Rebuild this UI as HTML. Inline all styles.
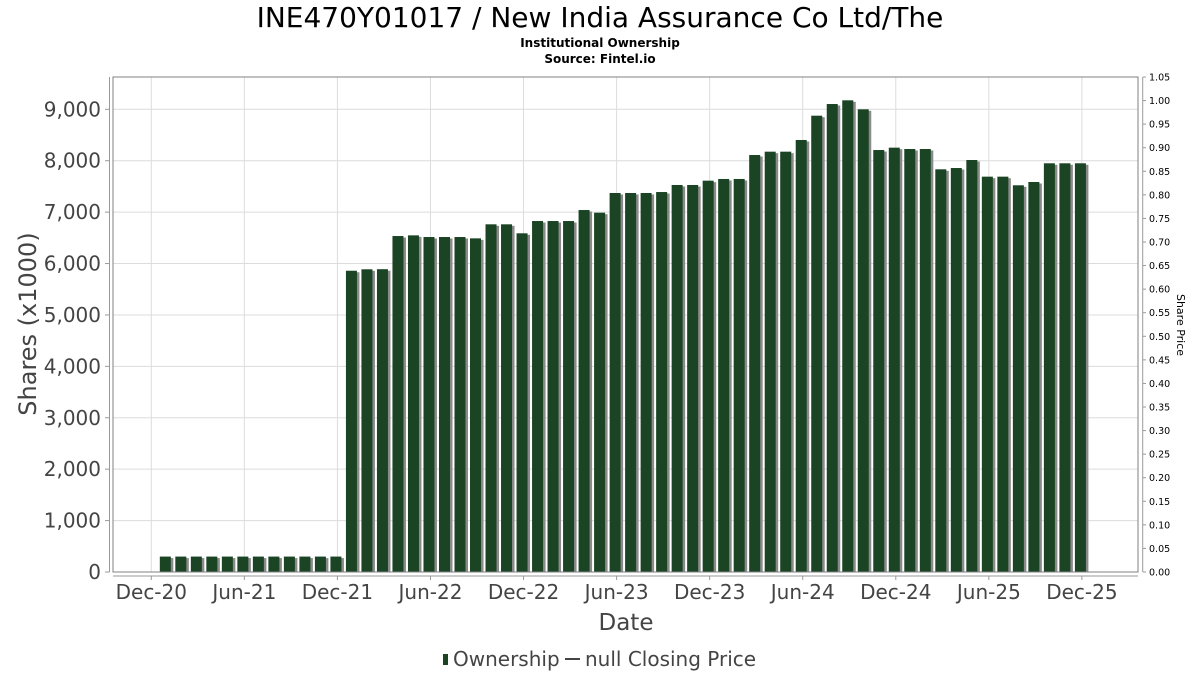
<!DOCTYPE html>
<html><head><meta charset="utf-8"><style>
html,body{margin:0;padding:0;background:#fff;width:1200px;height:675px;overflow:hidden}
svg{display:block;font-family:"DejaVu Sans","Liberation Sans",sans-serif}
</style></head><body>
<svg id="chart" width="1200" height="675" viewBox="0 0 1200 675">
<text x="600" y="27" text-anchor="middle" font-size="28" fill="#000">INE470Y01017 / New India Assurance Co Ltd/The</text>
<text x="600" y="47" text-anchor="middle" font-size="12" font-weight="bold" fill="#000">Institutional Ownership</text>
<text x="600" y="63" text-anchor="middle" font-size="12" font-weight="bold" fill="#000">Source: Fintel.io</text>
<g id="grid"></g>
<g id="bars"></g>
<rect x="113" y="77" width="1025" height="495" fill="none" stroke="#808080" stroke-width="1"/>
<g id="axes"></g>
<text transform="translate(36,324) rotate(-90)" text-anchor="middle" font-size="24" fill="#444">Shares (x1000)</text>
<text transform="translate(1177,325) rotate(90)" text-anchor="middle" font-size="11" fill="#000">Share Price</text>
<text x="626" y="630" text-anchor="middle" font-size="23" fill="#444">Date</text>
<g>
<rect x="443" y="654" width="5" height="11" fill="#1a4423"/>
<text x="453" y="666" font-size="20" fill="#444">Ownership</text>
<line x1="565" y1="659" x2="580" y2="659" stroke="#444" stroke-width="2"/>
<text x="585" y="666" font-size="20" fill="#444">null Closing Price</text>
</g>
</svg>
<script>
const ownership = [300,300,300,300,300,300,300,300,300,300,300,300,
5860,5888,5890,6535,6548,6516,6516,6516,6490,6763,6763,6588,
6827,6827,6827,7041,6989,7372,7372,7372,7391,7528,7528,7612,
7645,7645,8111,8176,8176,8403,8876,9103,9175,9000,8208,8254,
8228,8228,7833,7858,8014,7690,7690,7522,7586,7950,7950,7950];
const xTickLabels = ["Dec-20","Jun-21","Dec-21","Jun-22","Dec-22","Jun-23","Dec-23","Jun-24","Dec-24","Jun-25","Dec-25"];
const yTicks = [0,1000,2000,3000,4000,5000,6000,7000,8000,9000];
const priceTicks = [0,0.05,0.1,0.15,0.2,0.25,0.3,0.35,0.4,0.45,0.5,0.55,0.6,0.65,0.7,0.75,0.8,0.85,0.9,0.95,1.0,1.05];

const NS="http://www.w3.org/2000/svg";
const x0=151.3, monthW=15.51;
const xm = m => x0 + m*monthW;
const yL = v => 572 - v*0.05141;
const yR = v => 572 - v/1.05*495;
function mk(tag, attrs, parent){const e=document.createElementNS(NS,tag);for(const k in attrs)e.setAttribute(k,attrs[k]);parent.appendChild(e);return e;}
const grid=document.getElementById('grid'), bars=document.getElementById('bars'), axes=document.getElementById('axes');

yTicks.forEach(v=>{
  const y=yL(v);
  if(v>0){const g=mk('line',{x1:113,x2:1138,y1:y,y2:y,stroke:'#dcdcdc','stroke-width':1},grid);
  
  }
  const t=mk('line',{x1:105,x2:109.5,y1:y,y2:y,stroke:'#999'},axes);
  
  
  const l=mk('text',{x:101,y:y+7,'text-anchor':'end','font-size':20,fill:'#444'},axes);
  l.textContent=v.toLocaleString('en-US');
  
  
});
xTickLabels.forEach((s,i)=>{
  const x=xm(i*6);
  const g=mk('line',{x1:x,x2:x,y1:77,y2:572,stroke:'#dcdcdc','stroke-width':1},grid);
  
  
  const t=mk('line',{x1:x,x2:x,y1:576,y2:580,stroke:'#999'},axes);
  
  
  const l=mk('text',{x:x,y:599,'text-anchor':'middle','font-size':20,fill:'#444'},axes);
  l.textContent=s;
  
  
});
priceTicks.forEach(v=>{
  const y=yR(v);
  const t=mk('line',{x1:1143,x2:1146,y1:y,y2:y,stroke:'#999'},axes);
  
  
  const l=mk('text',{x:1149,y:y+3.5,'font-size':9.5,fill:'#000'},axes);
  l.textContent=v.toFixed(2);
  
  
});
let a;
a=mk('line',{x1:109.5,x2:109.5,y1:77,y2:572,stroke:'#999'},axes);


a=mk('line',{x1:113,x2:1138,y1:576,y2:576,stroke:'#999'},axes);


a=mk('line',{x1:1142.7,x2:1142.7,y1:77,y2:572,stroke:'#999'},axes);



ownership.forEach((v,i)=>{
  const cx=xm(i+1)-1.5, w=11, top=yL(v);
  const s=mk('rect',{x:cx-w/2+2.5,y:top+1.5,width:w,height:572-top-1.5,fill:'#8a8a8a'},bars);
  
  
  const b=mk('rect',{x:cx-w/2,y:top,width:w,height:572-top,fill:'#1a4423'},bars);
  
  
});
</script>
</body></html>
